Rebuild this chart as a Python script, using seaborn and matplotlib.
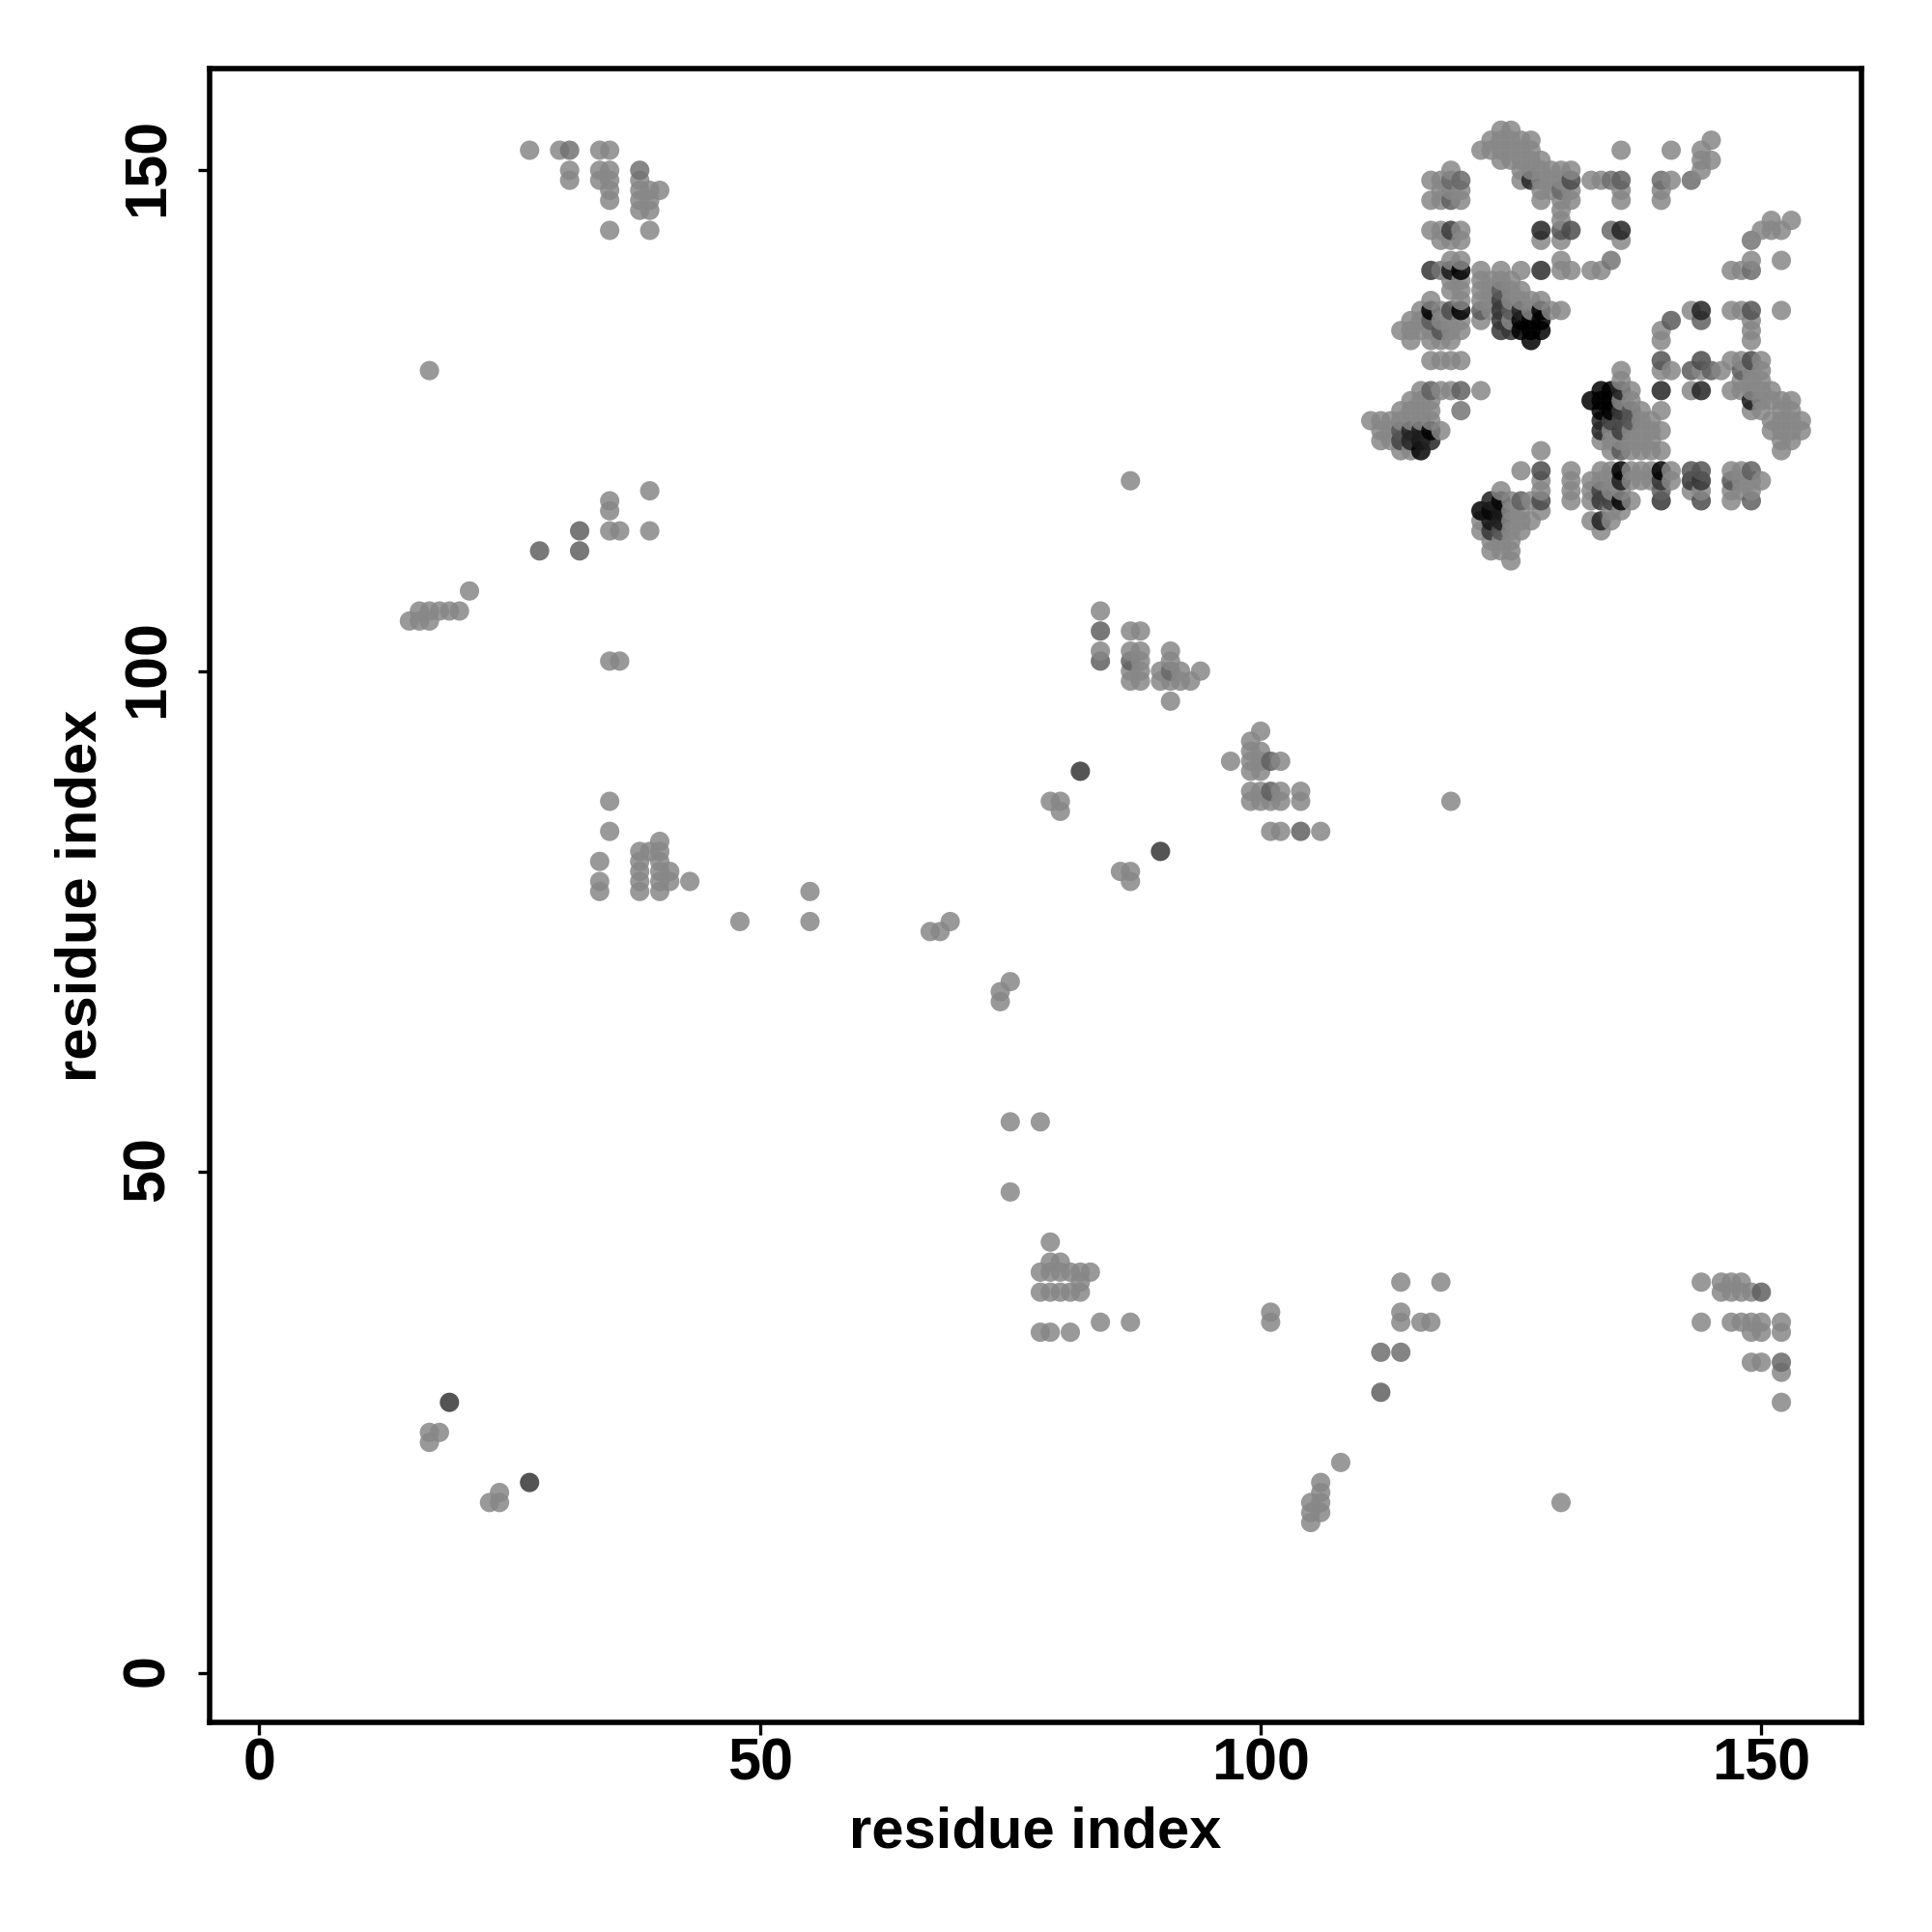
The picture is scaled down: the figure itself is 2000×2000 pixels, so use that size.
import pandas as pd
import matplotlib
matplotlib.use('Agg')
import matplotlib.pyplot as plt
from matplotlib.transforms import ScaledTranslation
import seaborn as sns

# residue pairs in contact, one list of x per y row
row_y = [154, 153, 152, 151, 150, 149, 148, 147, 146, 145, 144, 143, 141, 140, 139, 138, 137, 136,
         135, 134, 133, 131, 130, 129, 128, 127, 126, 125, 124, 123, 122, 120, 119, 118, 117, 116,
         115, 114, 113, 112, 111, 108, 106, 105, 104, 102, 101, 100, 99, 97, 94, 93, 92, 91, 90,
         88, 87, 86, 84, 83, 82, 81, 80, 79, 78, 75, 74, 69, 68, 67, 55, 48, 43, 41, 40, 39, 38,
         36, 35, 34, 32, 31, 30, 28, 27, 24, 23, 21, 19, 18, 17, 16, 15]
row_x = [
    [124, 125],
    [123, 124, 125, 126, 127, 145],
    [27, 30, 31, 34, 35, 122, 123, 124, 125, 126, 127, 136, 141, 144],
    [124, 125, 126, 127, 128, 144, 145],
    [31, 34, 35, 38, 119, 126, 127, 128, 129, 130, 131, 144],
    [31, 34, 35, 38, 117, 118, 119, 120, 126, 127, 128, 129, 130, 131, 133, 134, 135, 136, 140, 141, 143],
    [35, 38, 39, 40, 118, 119, 120, 128, 129, 130, 131, 136, 140],
    [35, 38, 39, 117, 118, 119, 120, 128, 130, 131, 136, 140],
    [38, 39, 130],
    [130, 151, 153],
    [35, 39, 117, 118, 119, 120, 128, 130, 131, 135, 136, 150, 151, 152],
    [118, 119, 120, 128, 130, 136, 149],
    [119, 120, 130, 135, 149, 152],
    [117, 118, 119, 120, 122, 124, 126, 128, 130, 131, 133, 134, 147, 148, 149],
    [119, 120, 122, 123, 124, 125],
    [119, 120, 122, 123, 124, 125, 126],
    [117, 120, 122, 123, 124, 125, 126, 127, 128],
    [116, 117, 118, 119, 120, 122, 123, 124, 125, 126, 127, 128, 129, 130, 143, 144, 147, 148, 149, 152],
    [115, 116, 117, 118, 119, 120, 122, 124, 125, 126, 127, 128, 141, 144, 149],
    [114, 115, 116, 117, 118, 119, 120, 124, 125, 126, 127, 128, 140, 149],
    [115, 117, 118, 119, 127, 140, 149],
    [117, 118, 119, 120, 140, 144, 147, 148, 149, 150],
    [17, 136, 140, 141, 143, 144, 145, 146, 148, 149, 150],
    [136, 148, 149, 150],
    [116, 117, 118, 119, 120, 122, 134, 135, 136, 137, 140, 143, 144, 147, 148, 149, 150, 151],
    [115, 116, 117, 133, 134, 135, 136, 137, 149, 150, 151, 152, 153],
    [114, 115, 116, 117, 120, 134, 135, 136, 137, 138, 140, 149, 150, 152, 153],
    [111, 112, 113, 114, 115, 116, 117, 134, 135, 136, 137, 138, 139, 151, 152, 153, 154],
    [112, 113, 114, 115, 116, 117, 118, 134, 135, 136, 137, 138, 139, 140, 151, 152, 153, 154],
    [112, 113, 114, 115, 116, 117, 134, 135, 136, 137, 138, 139, 152, 153],
    [114, 115, 116, 128, 135, 136, 137, 138, 139, 140, 152],
    [126, 128, 131, 134, 135, 136, 137, 138, 139, 140, 141, 143, 144, 147, 148, 149],
    [87, 128, 131, 133, 134, 135, 136, 137, 138, 139, 140, 141, 143, 144, 147, 148, 149, 150],
    [39, 124, 128, 131, 133, 134, 135, 136, 140, 143, 144, 147, 148, 149],
    [35, 123, 124, 125, 126, 127, 128, 131, 133, 134, 135, 136, 137, 140, 144, 147, 149],
    [35, 122, 123, 124, 125, 126, 128, 135, 136],
    [122, 123, 124, 125, 126, 127, 133, 134, 135],
    [32, 35, 36, 39, 122, 123, 124, 125, 126, 134],
    [123, 124, 125],
    [28, 32, 123, 124, 125],
    [125],
    [21],
    [16, 17, 18, 19, 20, 84],
    [15, 16, 17],
    [84, 87, 88],
    [84, 87, 88, 91],
    [35, 36, 84, 87, 88, 91],
    [87, 88, 90, 91, 92, 94],
    [87, 88, 90, 91, 92, 93],
    [91],
    [100],
    [99],
    [99, 100],
    [97, 99, 100, 101, 102],
    [82, 99, 100],
    [99, 100, 101, 102, 104],
    [35, 79, 80, 99, 100, 101, 102, 104, 119],
    [80],
    [35, 101, 102, 104, 106],
    [40],
    [38, 39, 40, 90],
    [34, 38, 40],
    [38, 40, 41, 86, 87],
    [34, 38, 40, 41, 43, 87],
    [34, 38, 40, 55],
    [48, 55, 69],
    [67, 68],
    [75],
    [74],
    [74],
    [75, 78],
    [75],
    [79],
    [79, 80],
    [78, 79, 80, 81, 82, 83],
    [82, 114, 118, 144, 146, 147, 148],
    [78, 79, 80, 81, 82, 146, 147, 148, 149, 150],
    [101, 114],
    [84, 87, 101, 114, 116, 117, 144, 147, 148, 149, 150, 152],
    [78, 79, 81, 149, 150, 152],
    [112, 114],
    [149, 150, 152],
    [152],
    [112],
    [19, 152],
    [17, 18],
    [17],
    [108],
    [27, 106],
    [24, 106],
    [23, 24, 105, 106, 130],
    [105, 106],
    [105],
]

# darker points, everything else keeps base_grey
dark_x = [31, 38, 84, 84, 87, 82, 90, 19, 27, 112, 112, 114, 28, 32, 32, 150, 152, 101, 101, 104, 91,
          127, 131, 128, 130, 131, 135, 136, 117, 118, 119, 120, 117, 120, 119, 119, 117, 118,
          122, 124, 124, 124, 124, 124, 125, 125, 126, 126, 126, 127, 127, 127, 128, 128, 128, 128,
          115, 116, 116, 117, 117, 114, 114, 115, 115, 116,
          136, 136, 133, 134, 134, 134, 135, 135, 135, 136, 136, 136, 136, 137, 137, 134, 134, 135,
          141, 144, 144, 149, 140, 143, 144, 145, 148, 149, 149, 140, 144,
          122, 123, 123, 124, 124, 123, 123, 124, 124, 126, 128, 128,
          136, 136, 140, 140, 140, 143, 143, 144, 144, 144, 147, 149, 149, 134, 134, 135, 140, 134, 143,
          119, 120, 119, 130, 136, 135, 140, 143, 149, 120, 117, 120, 149, 135, 149]
dark_y = [152, 150, 104, 101, 101, 90, 82, 27, 19, 32, 28, 32, 112, 114, 112, 38, 31, 91, 88, 84, 100,
          149, 149, 144, 144, 144, 144, 144, 140, 140, 140, 140, 136, 136, 136, 144, 135, 134,
          136, 138, 137, 136, 135, 134, 136, 134, 136, 135, 134, 135, 134, 133, 136, 135, 134, 140,
          124, 124, 123, 124, 123, 124, 123, 123, 124, 122,
          120, 119, 127, 128, 127, 126, 128, 127, 126, 128, 126, 125, 124, 126, 125, 125, 124, 125,
          135, 136, 135, 136, 131, 130, 131, 130, 130, 131, 127, 128, 128,
          116, 117, 116, 117, 116, 115, 114, 115, 114, 117, 120, 117,
          117, 122, 120, 119, 117, 120, 119, 120, 119, 117, 119, 120, 117, 118, 117, 117, 118, 115, 119,
          149, 149, 147, 148, 149, 149, 149, 149, 136, 128, 128, 126, 143, 141, 140]
dark_grey = [0.53, 0.53, 0.47, 0.47, 0.47, 0.33, 0.33, 0.33, 0.33, 0.52, 0.47, 0.52, 0.47, 0.47, 0.47, 0.47, 0.5, 0.47, 0.47, 0.47, 0.5,
             0.27, 0.4, 0.27, 0.43, 0.4, 0.5, 0.27, 0.33, 0.54, 0.23, 0.1, 0.14, 0.08, 0.4, 0.35, 0.45, 0.43,
             0.45, 0.45, 0.35, 0.33, 0.33, 0.33, 0.45, 0.33, 0.27, 0.08, 0.08, 0.14, 0.05, 0.08, 0.12, 0.06, 0.12, 0.3,
             0.27, 0.25, 0.23, 0.14, 0.27, 0.43, 0.37, 0.27, 0.27, 0.16,
             0.06, 0.25, 0.08, 0.08, 0.08, 0.08, 0.06, 0.08, 0.07, 0.27, 0.33, 0.4, 0.35, 0.43, 0.43, 0.27, 0.27, 0.37,
             0.45, 0.27, 0.47, 0.43, 0.43, 0.45, 0.4, 0.47, 0.47, 0.4, 0.23, 0.27, 0.27,
             0.14, 0.25, 0.17, 0.17, 0.23, 0.23, 0.33, 0.25, 0.43, 0.47, 0.4, 0.4,
             0.16, 0.45, 0.09, 0.33, 0.33, 0.43, 0.33, 0.43, 0.33, 0.4, 0.43, 0.47, 0.47, 0.37, 0.33, 0.37, 0.47, 0.27, 0.47,
             0.5, 0.5, 0.47, 0.5, 0.47, 0.52, 0.51, 0.51, 0.5, 0.47, 0.47, 0.54, 0.54, 0.54, 0.51]
base_grey = 0.6
point_alpha = 0.85

tick_values = [0, 50, 100, 150]


def build_table():
    """Long table of contacts, ordered by column like the original drawing order"""
    rows = []
    for y, xs in zip(row_y, row_x):
        for x in xs:
            rows.append({'x': x, 'y': y})
    df = pd.DataFrame(rows)
    dark = pd.DataFrame({'x': dark_x, 'y': dark_y, 'dark': dark_grey}).drop_duplicates(['x', 'y'], keep='first')
    df = df.merge(dark, on=['x', 'y'], how='outer')
    seen = df['dark'].fillna(base_grey)
    # undo the alpha so a lone point shows the grey
    df['grey'] = ((seen - (1 - point_alpha)) / point_alpha).clip(0, 1)
    return df.sort_values(['x', 'y']).reset_index(drop=True)


def plot_contacts():
    df = build_table()

    sns.set_style('white')
    plt.rcParams['font.family'] = ['Liberation Sans', 'DejaVu Sans']
    plt.rcParams['font.weight'] = 'bold'
    plt.rcParams['text.color'] = 'black'
    plt.rcParams['axes.labelcolor'] = 'black'
    plt.rcParams['xtick.color'] = 'black'
    plt.rcParams['ytick.color'] = 'black'

    fig = plt.figure(figsize=(10, 10), dpi=200)
    ax = fig.add_axes([217 / 2000, 1 - 1783 / 2000, 1710 / 2000, 1712 / 2000])

    sns.scatterplot(data=df, x='x', y='y', hue='grey', palette='gray', hue_norm=(0, 1),
                    s=52, linewidth=0, alpha=point_alpha, legend=False, ax=ax)

    ax.set_xlim(-4.95, 160)
    ax.set_ylim(-4.95, 160.15)
    ax.set_xticks(tick_values)
    ax.set_yticks(tick_values)
    ax.tick_params(axis='both', direction='out', length=4.5, width=1.2, color='black',
                   left=True, bottom=True, labelsize=22)
    ax.tick_params(axis='x', pad=1)
    ax.tick_params(axis='y', pad=8)
    nudge = ScaledTranslation(0, 3 / 200, fig.dpi_scale_trans)
    for label in ax.get_yticklabels():
        label.set_rotation(90)
        label.set_verticalalignment('center')
        label.set_transform(label.get_transform() + nudge)
    for spine in ax.spines.values():
        spine.set_visible(True)
        spine.set_color('black')
        spine.set_linewidth(2)

    ax.set_xlabel('residue index', fontsize=21.5, fontweight='bold', labelpad=5)
    ax.set_ylabel('residue index', fontsize=21.5, fontweight='bold', labelpad=5)

    fig.savefig('out.png', dpi=200, facecolor='white')


if __name__ == "__main__":
    plot_contacts()
